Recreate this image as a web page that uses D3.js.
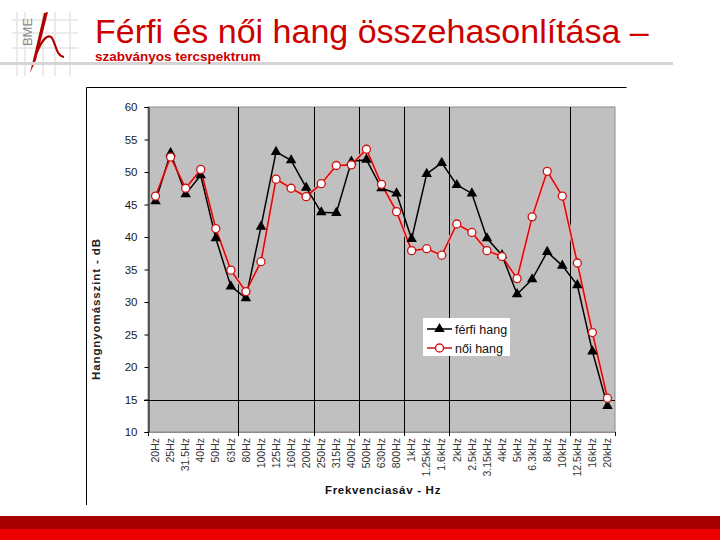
<!DOCTYPE html>
<html>
<head>
<meta charset="utf-8">
<script src="https://cdn.jsdelivr.net/npm/d3@7"></script>
<style>
  body { margin: 0; background: #fff; }
  text { font-family: "Liberation Sans", Arial, sans-serif; }
</style>
</head>
<body>
<div id="chart"></div>
<script>
// chart data (dB per third-octave band)
var bands = ["20Hz", "25Hz", "31.5Hz", "40Hz", "50Hz", "63Hz", "80Hz", "100Hz", "125Hz", "160Hz",
  "200Hz", "250Hz", "315Hz", "400Hz", "500Hz", "630Hz", "800Hz", "1kHz", "1.25kHz", "1.6kHz",
  "2kHz", "2.5kHz", "3.15kHz", "4kHz", "5kHz", "6.3kHz", "8kHz", "10kHz", "12.5kHz", "16kHz", "20kHz"];
var ferfi = [45.5, 52.9, 46.6, 49.5, 39.8, 32.4, 30.6, 41.6, 53.1, 51.8,
  47.6, 43.8, 43.7, 51.6, 51.9, 47.5, 46.7, 39.7, 49.7, 51.4,
  48.0, 46.7, 39.8, 37.2, 31.2, 33.5, 37.7, 35.6, 32.6, 22.4, 14.0];
var noi = [46.3, 52.3, 47.5, 50.4, 41.3, 34.9, 31.6, 36.2, 48.9, 47.5,
  46.2, 48.2, 51.0, 51.1, 53.5, 48.1, 43.9, 37.9, 38.2, 37.2,
  42.0, 40.7, 37.9, 37.0, 33.6, 43.1, 50.1, 46.3, 36.0, 25.3, 15.2];
var yTicks = [10, 15, 20, 25, 30, 35, 40, 45, 50, 55, 60];
var gridBands = ["80Hz", "250Hz", "500Hz", "1kHz", "2kHz", "12.5kHz"];
var seriesNames = ["férfi hang", "női hang"];

var svgWidth = 720, svgHeight = 540;
var plot = { left: 148, right: 615, top: 107, bottom: 432 };

var svg = d3.select("#chart").append("svg")
  .attr("width", svgWidth)
  .attr("height", svgHeight);

// ---- slide header ----
var logo = svg.append("g");
[17, 25, 43, 55, 70].forEach(function(x) {
  logo.append("line").attr("x1", x).attr("x2", x).attr("y1", 12).attr("y2", 76)
    .attr("stroke", "#e4e4e4").attr("stroke-width", 1.5);
});
[20, 33, 48].forEach(function(y) {
  logo.append("line").attr("x1", 12).attr("x2", 78).attr("y1", y).attr("y2", y)
    .attr("stroke", "#e4e4e4").attr("stroke-width", 1.5);
});
logo.append("text")
  .attr("transform", "translate(32,32) rotate(-90)")
  .attr("text-anchor", "middle")
  .attr("font-size", 13)
  .attr("fill", "#8a8a8a")
  .text("BME");
logo.append("path")
  .attr("d", "M30,73 L44,13 L48,12 L36,60 Z")
  .attr("fill", "#b00000");
logo.append("path")
  .attr("d", "M37,52 C42,40 48,33 52,38 C56,44 56,56 64,57")
  .attr("fill", "none").attr("stroke", "#b00000").attr("stroke-width", 2.2);

svg.append("line")
  .attr("x1", 0).attr("x2", 673).attr("y1", 63.5).attr("y2", 63.5)
  .attr("stroke", "#d4d4d4").attr("stroke-width", 3);

svg.append("text")
  .attr("x", 95).attr("y", 43)
  .attr("font-size", 34)
  .attr("fill", "#cc0000")
  .text("Férfi és női hang összehasonlítása –");

svg.append("text")
  .attr("x", 95).attr("y", 61)
  .attr("font-size", 13.5)
  .attr("font-weight", "bold")
  .attr("fill", "#cc0000")
  .text("szabványos tercspektrum");

// bottom red band
svg.append("rect").attr("x", 0).attr("y", 516).attr("width", 720).attr("height", 13).attr("fill", "#a80000");
svg.append("rect").attr("x", 0).attr("y", 529).attr("width", 720).attr("height", 11).attr("fill", "#ee0000");

// chart frame (top and left edges only)
svg.append("path")
  .attr("d", "M86.5,505 L86.5,87.5 L626.5,87.5")
  .attr("fill", "none").attr("stroke", "#000").attr("stroke-width", 1);

// ---- scales ----
var x = d3.scaleBand().domain(bands).range([plot.left, plot.right]);
var y = d3.scaleLinear().domain([10, 60]).range([plot.bottom, plot.top]);

var chartGroup = svg.append("g");

chartGroup.append("rect")
  .attr("x", plot.left).attr("y", plot.top)
  .attr("width", plot.right - plot.left).attr("height", plot.bottom - plot.top)
  .attr("fill", "#c0c0c0").attr("stroke", "#8c8c8c").attr("stroke-width", 1);

// vertical gridlines
chartGroup.selectAll(".vgrid").data(gridBands).enter().append("line")
  .attr("class", "vgrid")
  .attr("x1", d => Math.round(x(d)) + 0.5).attr("x2", d => Math.round(x(d)) + 0.5)
  .attr("y1", plot.top).attr("y2", plot.bottom + 4)
  .attr("stroke", "#000").attr("stroke-width", 1);

// horizontal gridline at 15
chartGroup.append("line")
  .attr("x1", plot.left - 4).attr("x2", plot.right)
  .attr("y1", Math.round(y(15)) + 0.5).attr("y2", Math.round(y(15)) + 0.5)
  .attr("stroke", "#000").attr("stroke-width", 1);

// y axis
var leftAxis = d3.axisLeft(y).tickValues(yTicks).tickSize(4).tickPadding(7);
var yAxisG = chartGroup.append("g")
  .attr("transform", `translate(${plot.left + 0.5},0)`)
  .call(leftAxis);
yAxisG.select(".domain").attr("stroke", "#000");
yAxisG.selectAll("text").attr("font-size", 11.5).attr("fill", "#1a1a1a")
  .attr("font-family", "Liberation Sans, Arial, sans-serif");

// x axis labels
var bottomAxis = d3.axisBottom(x).tickSize(0).tickPadding(0);
var xAxisG = chartGroup.append("g")
  .attr("transform", `translate(0,${plot.bottom})`)
  .call(bottomAxis);
xAxisG.select(".domain").attr("stroke", "#8c8c8c");
xAxisG.selectAll("text")
  .attr("font-size", 10.5)
  .attr("fill", "#333")
  .attr("font-family", "Liberation Sans, Arial, sans-serif")
  .attr("text-anchor", "end")
  .attr("transform", "rotate(-90)")
  .attr("x", -6).attr("y", 0).attr("dy", "0.35em");

// x boundary ticks
chartGroup.selectAll(".xtick").data([bands[0]].concat(gridBands)).enter().append("line")
  .attr("x1", d => Math.round(x(d)) + 0.5).attr("x2", d => Math.round(x(d)) + 0.5)
  .attr("y1", plot.bottom).attr("y2", plot.bottom + 4)
  .attr("stroke", "#000");
chartGroup.append("line")
  .attr("x1", plot.right + 0.5).attr("x2", plot.right + 0.5)
  .attr("y1", plot.bottom).attr("y2", plot.bottom + 4)
  .attr("stroke", "#000");

// axis titles
svg.append("text")
  .attr("transform", "translate(100,309) rotate(-90)")
  .attr("text-anchor", "middle")
  .attr("font-size", 11.5)
  .attr("font-weight", "bold")
  .attr("letter-spacing", 0.9)
  .attr("fill", "#222")
  .text("Hangnyomásszint - dB");

svg.append("text")
  .attr("x", 383).attr("y", 494)
  .attr("text-anchor", "middle")
  .attr("font-size", 11.5)
  .attr("font-weight", "bold")
  .attr("letter-spacing", 0.7)
  .attr("fill", "#111")
  .text("Frekvenciasáv - Hz");

// ---- series ----
var line = d3.line()
  .x((d, i) => x(bands[i]) + x.bandwidth() / 2)
  .y(d => y(d));

chartGroup.append("path")
  .datum(noi)
  .attr("d", line)
  .attr("fill", "none").attr("stroke", "#f2b0b0").attr("stroke-width", 3.5);

chartGroup.append("path")
  .datum(ferfi)
  .attr("d", line)
  .attr("fill", "none").attr("stroke", "#000").attr("stroke-width", 1.5);

chartGroup.append("path")
  .datum(noi)
  .attr("d", line)
  .attr("fill", "none").attr("stroke", "#cc1111").attr("stroke-width", 1.6);

var tri = d3.symbol().type(d3.symbolTriangle).size(48);
chartGroup.selectAll(".tri").data(ferfi).enter().append("path")
  .attr("class", "tri")
  .attr("d", tri)
  .attr("transform", (d, i) => `translate(${x(bands[i]) + x.bandwidth() / 2},${y(d)})`)
  .attr("fill", "#000");

chartGroup.selectAll(".dot").data(noi).enter().append("circle")
  .attr("class", "dot")
  .attr("cx", (d, i) => x(bands[i]) + x.bandwidth() / 2)
  .attr("cy", d => y(d))
  .attr("r", 4)
  .attr("fill", "#fff").attr("stroke", "#cc1111").attr("stroke-width", 1.3);

// ---- legend ----
var legend = svg.append("g").attr("transform", "translate(423,318)");
legend.append("rect").attr("width", 87).attr("height", 38).attr("fill", "#fff");
seriesNames.forEach(function(name, i) {
  var ly = 11 + i * 19;
  legend.append("line").attr("x1", 4).attr("x2", 29).attr("y1", ly).attr("y2", ly)
    .attr("stroke", i === 0 ? "#000" : "#cc1111").attr("stroke-width", 1.5);
  if (i === 0) {
    legend.append("path").attr("d", tri).attr("transform", `translate(16.5,${ly})`).attr("fill", "#000");
  } else {
    legend.append("circle").attr("cx", 16.5).attr("cy", ly).attr("r", 4)
      .attr("fill", "#fff").attr("stroke", "#cc1111").attr("stroke-width", 1.3);
  }
  legend.append("text").attr("x", 32).attr("y", ly + 4.5)
    .attr("font-size", 12.5).attr("fill", "#111").text(name);
});
</script>
</body>
</html>
